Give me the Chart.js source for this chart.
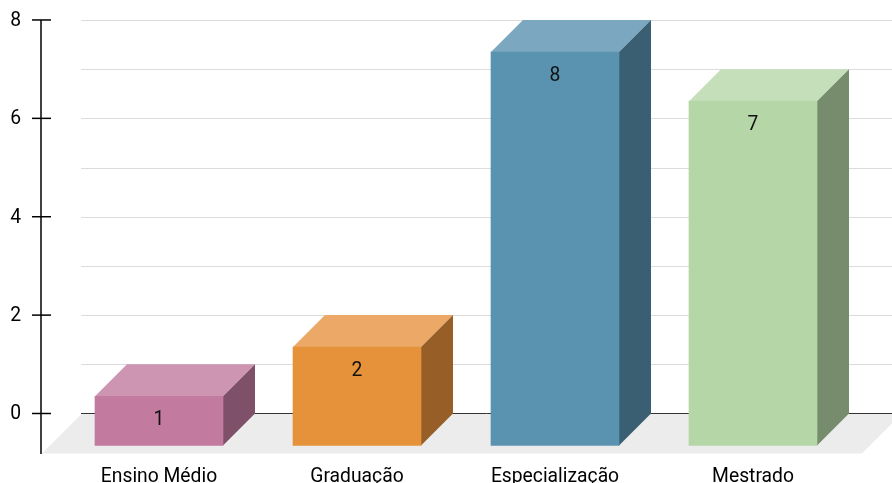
<!DOCTYPE html>
<html>
<head>
<meta charset="utf-8">
<script src="https://cdn.jsdelivr.net/npm/chart.js@4"></script>
<style>
  html, body { margin: 0; padding: 0; background: #fff; }
  canvas { display: block; }
</style>
</head>
<body>
<canvas id="chart" width="892" height="483"></canvas>
<script>
// Données du graphique
const categories = ['Ensino Médio', 'Graduação', 'Especialização', 'Mestrado'];
const counts = [1, 2, 8, 7];
const yTickValues = [0, 2, 4, 6, 8];
const gridValues = [1, 2, 3, 4, 5, 6, 7, 8];

// Couleurs des faces (avant, dessus, côté)
const frontColors = ['#C27A9E', '#E6923A', '#5A93B0', '#B5D6A7'];
const topColors = ['#CE95B2', '#EBA866', '#7BA8C0', '#C4DFB9'];
const sideColors = ['#7F5069', '#975F27', '#3A5F72', '#768C6D'];

const BAR_DEPTH = 32;   // profondeur des barres 3D
const FLOOR_DEPTH = 40; // profondeur du sol
const FONT = '19.3px Roboto';

// Plugin pour dessiner le décor 3D (sol, grille, axe, faces)
const pseudo3d = {
    id: 'pseudo3d',
    beforeDatasetsDraw(chart) {
        const c = chart.ctx;
        const area = chart.chartArea;
        const y = chart.scales.y;
        const backY = v => y.getPixelForValue(v) - BAR_DEPTH;
        const zeroBack = backY(0);
        const floorLeft = area.left - 18;
        const floorRight = area.right + 10;
        const floorFront = zeroBack + FLOOR_DEPTH;

        c.save();
        // sol
        c.fillStyle = '#ECECEC';
        c.beginPath();
        c.moveTo(floorLeft, floorFront);
        c.lineTo(floorLeft + FLOOR_DEPTH, zeroBack);
        c.lineTo(floorRight + FLOOR_DEPTH, zeroBack);
        c.lineTo(floorRight, floorFront);
        c.closePath();
        c.fill();

        // lignes de grille
        c.lineWidth = 1;
        c.strokeStyle = '#DCDCDC';
        gridValues.forEach(v => {
            const py = Math.round(backY(v)) + 0.5;
            c.beginPath();
            c.moveTo(floorLeft + FLOOR_DEPTH - 1, py);
            c.lineTo(chart.width, py);
            c.stroke();
        });
        c.strokeStyle = '#333';
        c.beginPath();
        c.moveTo(floorLeft + FLOOR_DEPTH - 1, Math.round(zeroBack) + 0.5);
        c.lineTo(chart.width, Math.round(zeroBack) + 0.5);
        c.stroke();

        // axe Y
        const axisX = floorLeft - 1;
        c.strokeStyle = '#000';
        c.lineWidth = 1.5;
        c.beginPath();
        c.moveTo(axisX, backY(8));
        c.lineTo(axisX, area.bottom);
        c.stroke();
        c.fillStyle = '#000';
        c.font = FONT;
        c.textAlign = 'right';
        c.textBaseline = 'middle';
        yTickValues.forEach(v => {
            const py = backY(v);
            c.beginPath();
            c.moveTo(axisX - 9, py);
            c.lineTo(axisX + 10, py);
            c.stroke();
            c.fillText(String(v), axisX - 20, py + 1);
        });

        // faces du dessus et du côté
        const meta = chart.getDatasetMeta(0);
        meta.data.forEach((bar, i) => {
            const p = bar.getProps(['x', 'y', 'base', 'width'], true);
            const left = p.x - p.width / 2;
            const right = p.x + p.width / 2;
            c.fillStyle = topColors[i];
            c.beginPath();
            c.moveTo(left, p.y);
            c.lineTo(left + BAR_DEPTH, p.y - BAR_DEPTH);
            c.lineTo(right + BAR_DEPTH, p.y - BAR_DEPTH);
            c.lineTo(right, p.y);
            c.closePath();
            c.fill();
            c.fillStyle = sideColors[i];
            c.beginPath();
            c.moveTo(right, p.y);
            c.lineTo(right + BAR_DEPTH, p.y - BAR_DEPTH);
            c.lineTo(right + BAR_DEPTH, p.base - BAR_DEPTH);
            c.lineTo(right, p.base);
            c.closePath();
            c.fill();
        });
        c.restore();
    },
    afterDatasetsDraw(chart) {
        const c = chart.ctx;
        const meta = chart.getDatasetMeta(0);
        c.save();
        c.fillStyle = '#111';
        c.font = FONT;
        c.textAlign = 'center';
        c.textBaseline = 'middle';
        meta.data.forEach((bar, i) => {
            c.fillText(String(counts[i]), bar.x, bar.y + 24);
        });
        c.restore();
    }
};

new Chart(document.getElementById('chart'), {
    type: 'bar',
    data: {
        labels: categories,
        datasets: [{
            data: counts,
            backgroundColor: frontColors,
            borderWidth: 0,
            barThickness: 128
        }]
    },
    options: {
        responsive: false,
        animation: false,
        events: [],
        layout: { padding: { left: 60, right: 40, top: 20, bottom: 0 } },
        scales: {
            x: {
                grid: { display: false, drawTicks: false },
                border: { display: false },
                ticks: { color: '#000', font: { family: 'Roboto', size: 19.3 }, padding: 12, maxRotation: 0 },
                afterFit(scale) { scale.height = 29; }
            },
            y: {
                display: false,
                min: -0.173,
                max: 8.65
            }
        },
        plugins: {
            legend: { display: false },
            tooltip: { enabled: false }
        }
    },
    plugins: [pseudo3d]
});
</script>
</body>
</html>
